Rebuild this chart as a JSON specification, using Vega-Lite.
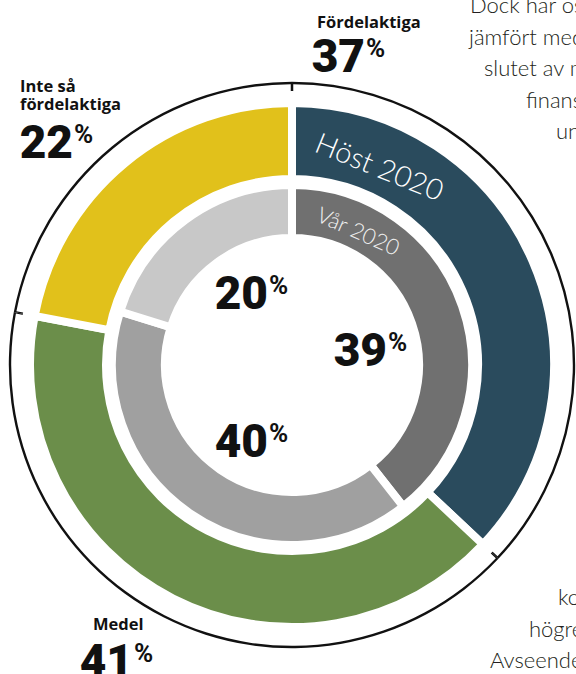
{
  "$schema": "https://vega.github.io/schema/vega-lite/v6.json",
  "width": 560,
  "height": 616,
  "autosize": {"type": "none"},
  "padding": {"left": 12, "top": 57, "right": 4, "bottom": 1},
  "background": "white",
  "config": {"view": {"stroke": null}},
  "datasets": {
    "outer": [
      {"cat": "Fördelaktiga", "pct": 37, "idx": 1},
      {"cat": "Medel", "pct": 41, "idx": 2},
      {"cat": "Inte så fördelaktiga", "pct": 22, "idx": 3}
    ],
    "inner": [
      {"cat": "Fördelaktiga", "pct": 39, "idx": 1},
      {"cat": "Medel", "pct": 40, "idx": 2},
      {"cat": "Inte så fördelaktiga", "pct": 20, "idx": 3}
    ],
    "catlabels": [
      {"t": "Fördelaktiga", "x": 25, "y": -337},
      {"t": "Inte så\nfördelaktiga", "x": -272, "y": -273},
      {"t": "Medel", "x": -199, "y": 265}
    ],
    "numbers": [
      {"t": "37", "x": 73, "y": -293},
      {"t": "22", "x": -219, "y": -207},
      {"t": "41", "x": -159, "y": 312},
      {"t": "20", "x": -24, "y": -56},
      {"t": "39", "x": 95, "y": 1},
      {"t": "40", "x": -24, "y": 92}
    ],
    "body": [
      {"t": "Dock har os", "x": 178, "y": -352},
      {"t": "jämfört med", "x": 177, "y": -320},
      {"t": "slutet av m", "x": 192, "y": -289},
      {"t": "finans", "x": 234, "y": -257},
      {"t": "un", "x": 264, "y": -226},
      {"t": "ko", "x": 266, "y": 240},
      {"t": "högre", "x": 237, "y": 272},
      {"t": "Avseende", "x": 198, "y": 303}
    ]
  },
  "layer": [
    {
      "data": {"name": "outer"},
      "mark": {"type": "arc", "radius": 283.2, "radius2": 274, "fill": "#111111"},
      "encoding": {
        "theta": {"field": "pct", "type": "quantitative", "stack": true},
        "order": {"field": "idx"}
      }
    },
    {
      "data": {"name": "outer"},
      "mark": {"type": "arc", "radius": 280.8, "radius2": 266, "fill": "white", "padAngle": 0.0065},
      "encoding": {
        "theta": {"field": "pct", "type": "quantitative", "stack": true},
        "order": {"field": "idx"}
      }
    },
    {
      "data": {"name": "outer"},
      "mark": {"type": "arc", "radius": 262, "radius2": 186, "stroke": "white", "strokeWidth": 8},
      "encoding": {
        "theta": {"field": "pct", "type": "quantitative", "stack": true},
        "order": {"field": "idx"},
        "color": {
          "field": "cat",
          "type": "nominal",
          "scale": {"domain": ["Fördelaktiga", "Medel", "Inte så fördelaktiga"], "range": ["#2a4b5d", "#6b8e4a", "#e1c11b"]},
          "legend": null
        }
      }
    },
    {
      "data": {"name": "inner"},
      "mark": {"type": "arc", "radius": 180, "radius2": 127, "stroke": "white", "strokeWidth": 8},
      "encoding": {
        "theta": {"field": "pct", "type": "quantitative", "stack": true},
        "order": {"field": "idx"},
        "color": {
          "field": "cat",
          "type": "nominal",
          "scale": {"domain": ["Fördelaktiga", "Medel", "Inte så fördelaktiga"], "range": ["#707070", "#a0a0a0", "#c8c8c8"]},
          "legend": null
        }
      }
    },
    {
      "data": {"values": [{"t": "Höst 2020", "x": 87, "y": -197}]},
      "mark": {"type": "text", "font": "Lato", "fontSize": 29, "fontWeight": 300, "fill": "white", "angle": 22, "align": "center", "baseline": "middle"},
      "encoding": {
        "x": {"field": "x", "type": "quantitative", "scale": {"domain": [-280, 280], "nice": false, "zero": false}, "axis": null},
        "y": {"field": "y", "type": "quantitative", "scale": {"domain": [-308, 308], "nice": false, "zero": false, "reverse": true}, "axis": null},
        "text": {"field": "t"}
      }
    },
    {
      "data": {"values": [{"t": "Vår 2020", "x": 66, "y": -133}]},
      "mark": {"type": "text", "font": "Lato", "fontSize": 22, "fontWeight": 300, "fill": "#f0f0f0", "angle": 24, "align": "center", "baseline": "middle"},
      "encoding": {
        "x": {"field": "x", "type": "quantitative", "scale": {"domain": [-280, 280], "nice": false, "zero": false}, "axis": null},
        "y": {"field": "y", "type": "quantitative", "scale": {"domain": [-308, 308], "nice": false, "zero": false, "reverse": true}, "axis": null},
        "text": {"field": "t"}
      }
    },
    {
      "data": {"name": "catlabels"},
      "mark": {"type": "text", "font": "Open Sans", "fontSize": 16.5, "fontWeight": "bold", "fill": "#111111", "align": "left", "baseline": "alphabetic", "lineBreak": "\n", "lineHeight": 18},
      "encoding": {
        "x": {"field": "x", "type": "quantitative", "scale": {"domain": [-280, 280], "nice": false, "zero": false}, "axis": null},
        "y": {"field": "y", "type": "quantitative", "scale": {"domain": [-308, 308], "nice": false, "zero": false, "reverse": true}, "axis": null},
        "text": {"field": "t"}
      }
    },
    {
      "data": {"name": "numbers"},
      "mark": {"type": "text", "font": "Roboto", "fontSize": 46, "fontWeight": 900, "fill": "#111111", "align": "right", "baseline": "alphabetic"},
      "encoding": {
        "x": {"field": "x", "type": "quantitative", "scale": {"domain": [-280, 280], "nice": false, "zero": false}, "axis": null},
        "y": {"field": "y", "type": "quantitative", "scale": {"domain": [-308, 308], "nice": false, "zero": false, "reverse": true}, "axis": null},
        "text": {"field": "t"}
      }
    },
    {
      "data": {"name": "numbers"},
      "mark": {"type": "text", "font": "Roboto", "fontSize": 26, "fontWeight": "bold", "fill": "#111111", "align": "left", "baseline": "alphabetic", "dx": 1, "dy": -15},
      "encoding": {
        "x": {"field": "x", "type": "quantitative", "scale": {"domain": [-280, 280], "nice": false, "zero": false}, "axis": null},
        "y": {"field": "y", "type": "quantitative", "scale": {"domain": [-308, 308], "nice": false, "zero": false, "reverse": true}, "axis": null},
        "text": {"value": "%"}
      }
    },
    {
      "data": {"name": "body"},
      "mark": {"type": "text", "font": "Lato", "fontSize": 22, "fontWeight": 300, "fill": "#231f20", "align": "left", "baseline": "alphabetic"},
      "encoding": {
        "x": {"field": "x", "type": "quantitative", "scale": {"domain": [-280, 280], "nice": false, "zero": false}, "axis": null},
        "y": {"field": "y", "type": "quantitative", "scale": {"domain": [-308, 308], "nice": false, "zero": false, "reverse": true}, "axis": null},
        "text": {"field": "t"}
      }
    }
  ],
  "resolve": {"scale": {"theta": "independent", "color": "independent"}}
}
